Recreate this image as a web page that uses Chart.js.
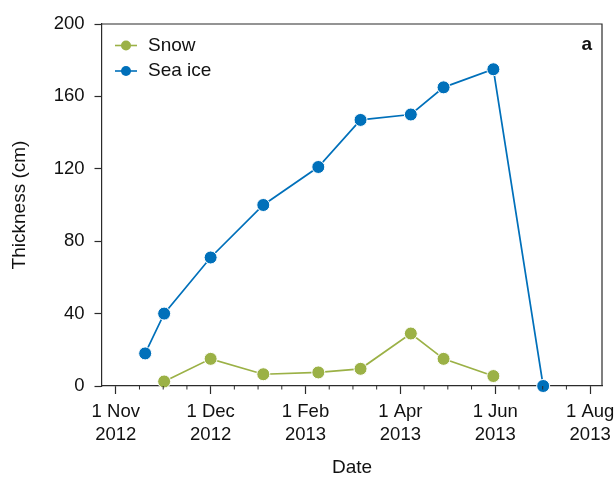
<!DOCTYPE html>
<html>
<head>
<meta charset="utf-8">
<script src="https://cdn.jsdelivr.net/npm/chart.js@4.4.0/dist/chart.umd.min.js"></script>
<style>
  html, body { margin: 0; padding: 0; background: #fff; }
</style>
</head>
<body>
<canvas id="thicknessChart" width="615" height="479"></canvas>
<script>
// tick labels on the date axis (positions in axis units, one unit per labelled tick)
const tickPos = [0, 1, 2, 3, 4, 5];
const tickLabels = [['1 Nov', '2012'], ['1 Dec', '2012'], ['1 Feb', '2013'], ['1 Apr', '2013'], ['1 Jun', '2013'], ['1 Aug', '2013']];

// sample positions
const seaIceX = [0.31, 0.51, 1.0, 1.555, 2.135, 2.58, 3.11, 3.455, 3.98, 4.505];
const seaIce = [18, 40, 71, 100, 121, 147, 150, 165, 175, 0];
const snowX = [0.51, 1.0, 1.555, 2.135, 2.58, 3.11, 3.455, 3.98];
const snow = [2.5, 15, 6.5, 7.5, 9.5, 29, 15, 5.5];

const BLUE = 'rgb(0,112,186)';
const GREEN = 'rgb(155,177,70)';
const AXIS = '#2b2b2b';
const FONT = 'Liberation Sans, Arial, sans-serif';

function toPoints(xs, ys) {
    return xs.map((x, i) => ({ x: x, y: ys[i] }));
}

// frame, minor ticks, legend and panel letter
const extras = {
    id: 'extras',
    afterDraw(chart) {
        const ctx = chart.ctx;
        const a = chart.chartArea;
        const xs = chart.scales.x;
        ctx.save();
        ctx.strokeStyle = AXIS;
        ctx.lineWidth = 1.2;
        ctx.beginPath();
        ctx.moveTo(a.left, a.top);
        ctx.lineTo(a.right, a.top);
        ctx.lineTo(a.right, a.bottom);
        ctx.stroke();

        // minor ticks every quarter unit
        ctx.lineWidth = 1;
        ctx.beginPath();
        for (let v = -0.25; v <= 5.25; v += 0.25) {
            if (Math.abs(v - Math.round(v)) < 1e-6) continue;
            const px = xs.getPixelForValue(v);
            if (px < a.left + 1 || px > a.right - 1) continue;
            ctx.moveTo(px, a.bottom);
            ctx.lineTo(px, a.bottom + 3.5);
        }
        ctx.stroke();

        // legend
        const rows = [
            { label: 'Snow', color: GREEN, y: 45.5 },
            { label: 'Sea ice', color: BLUE, y: 71 }
        ];
        ctx.font = '19px ' + FONT;
        ctx.textBaseline = 'middle';
        rows.forEach(r => {
            ctx.strokeStyle = r.color;
            ctx.lineWidth = 1.6;
            ctx.beginPath();
            ctx.moveTo(115, r.y);
            ctx.lineTo(137, r.y);
            ctx.stroke();
            ctx.fillStyle = r.color;
            ctx.beginPath();
            ctx.arc(126, r.y, 5, 0, Math.PI * 2);
            ctx.fill();
            ctx.fillStyle = '#111';
            ctx.textAlign = 'left';
            ctx.fillText(r.label, 148, r.y);
        });

        ctx.font = 'bold 19px ' + FONT;
        ctx.textAlign = 'right';
        ctx.fillText('a', 592, 45);
        ctx.restore();
    }
};

const ctx = document.getElementById('thicknessChart').getContext('2d');
new Chart(ctx, {
    type: 'line',
    data: {
        datasets: [
            {
                label: 'Snow',
                data: toPoints(snowX, snow),
                borderColor: GREEN,
                backgroundColor: GREEN,
                pointBackgroundColor: GREEN,
                pointBorderColor: '#fff',
                pointBorderWidth: 1,
                pointRadius: 6.5,
                borderWidth: 1.7,
                clip: false
            },
            {
                label: 'Sea ice',
                data: toPoints(seaIceX, seaIce),
                borderColor: BLUE,
                backgroundColor: BLUE,
                pointBackgroundColor: BLUE,
                pointBorderColor: '#fff',
                pointBorderWidth: 1,
                pointRadius: 6.5,
                borderWidth: 1.7,
                clip: false
            }
        ]
    },
    options: {
        responsive: false,
        animation: false,
        layout: { padding: { top: 24, right: 13, left: 0, bottom: 0 } },
        plugins: { legend: { display: false }, tooltip: { enabled: false } },
        scales: {
            x: {
                type: 'linear',
                min: -0.145,
                max: 5.125,
                afterBuildTicks: s => { s.ticks = tickPos.map(v => ({ value: v })); },
                afterFit: s => { s.height = 93; s.paddingLeft = 0; s.paddingRight = 0; },
                ticks: {
                    callback: v => tickLabels[tickPos.indexOf(v)],
                    autoSkip: false,
                    maxRotation: 0,
                    padding: 6,
                    color: '#111',
                    font: { family: FONT, size: 18.5, lineHeight: '23.5px' }
                },
                grid: { drawOnChartArea: false, drawTicks: true, tickLength: 8, tickColor: AXIS, tickWidth: 1.2 },
                border: { color: AXIS, width: 1.2 },
                title: {
                    display: true, text: 'Date', color: '#111',
                    font: { family: FONT, size: 19 },
                    padding: { top: 0, bottom: 0 }
                }
            },
            y: {
                min: 0,
                max: 200,
                afterFit: s => { s.width = 102; s.paddingTop = 0; s.paddingBottom = 0; },
                ticks: {
                    stepSize: 40,
                    padding: 10,
                    color: '#111',
                    font: { family: FONT, size: 18.5 }
                },
                grid: { drawOnChartArea: false, drawTicks: true, tickLength: 7.5, tickColor: AXIS, tickWidth: 1.2 },
                border: { color: AXIS, width: 1.2 },
                title: {
                    display: true, text: 'Thickness (cm)', color: '#111',
                    font: { family: FONT, size: 19 },
                    padding: { top: 8.6, bottom: 0 }
                }
            }
        }
    },
    plugins: [extras]
});
</script>
</body>
</html>
